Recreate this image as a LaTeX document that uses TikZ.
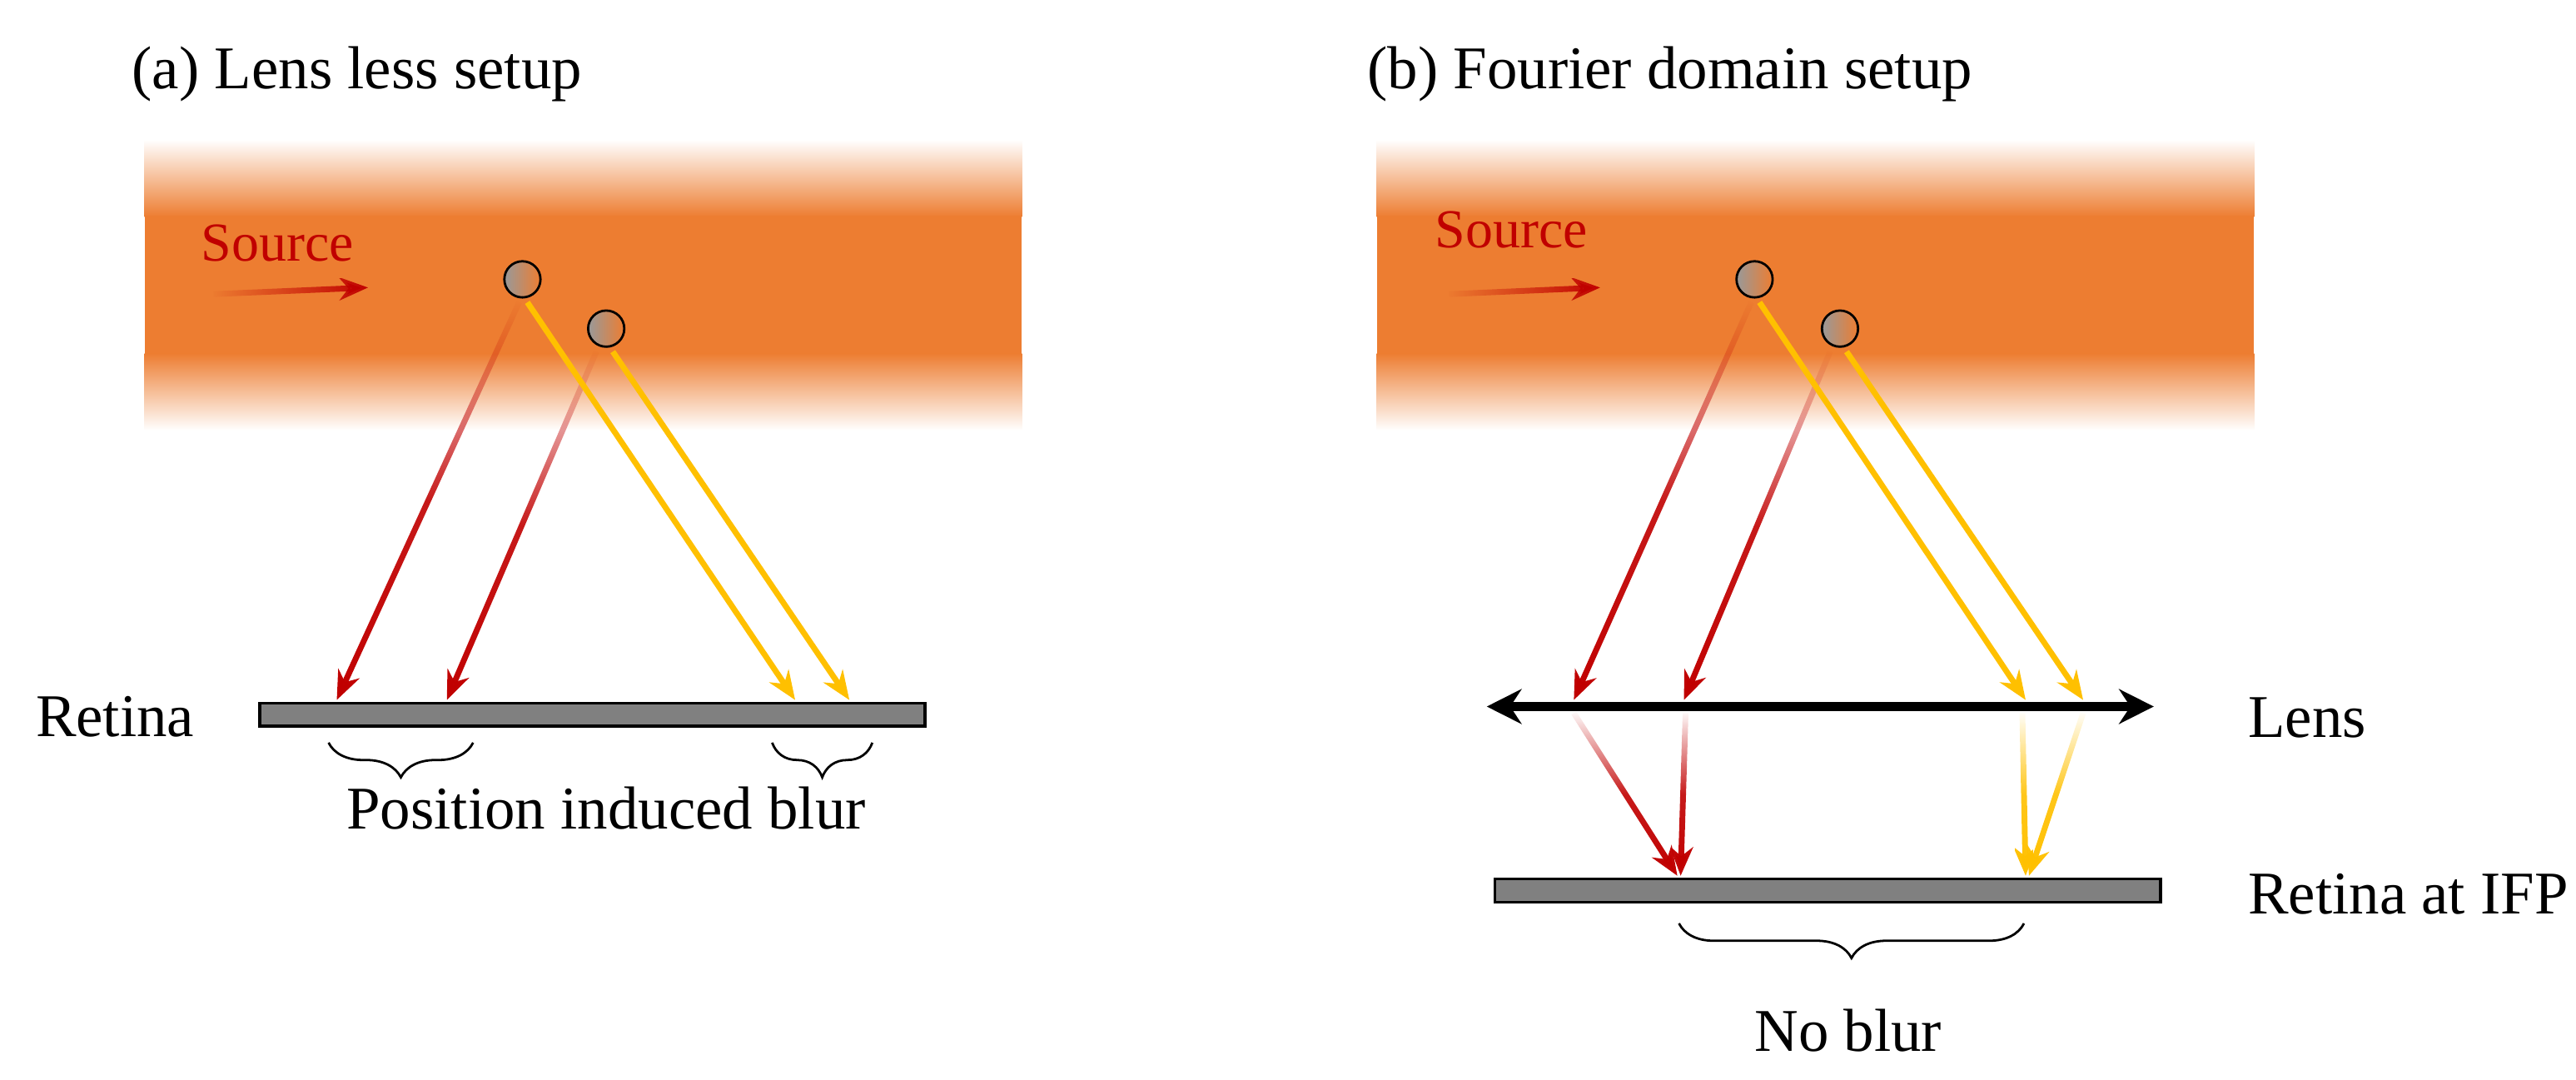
\documentclass[tikz,border=0pt]{standalone}
\usepackage{fontspec}
\setmainfont{Liberation Serif}
\usetikzlibrary{arrows.meta,fadings,decorations.pathreplacing}
\definecolor{bandorange}{RGB}{237,125,49}
\definecolor{raired}{RGB}{192,0,0}
\definecolor{raigold}{RGB}{255,192,0}
\tikzfading[name=fadetop, top color=transparent!100, bottom color=transparent!0, middle color=transparent!10]
\tikzfading[name=fadeleft, left color=transparent!100, right color=transparent!0]
\begin{document}
\begin{tikzpicture}[x=0.01cm, y=-0.01cm,
    title/.style={font=\fontsize{10.5}{12}\selectfont, anchor=west},
    label/.style={font=\fontsize{10.5}{12}\selectfont},
    srclabel/.style={font=\fontsize{9.5}{11}\selectfont, text=raired},
    ray/.style={line width=1pt, -{Stealth[length=5pt,width=4pt]}},
    redray/.style={ray, draw=raired, path fading=fadetop},
    goldray/.style={ray, draw=raigold},
    particle/.style={draw=black, line width=0.4pt, left color=gray!80, right color=bandorange},
    retina/.style={draw=black, line width=0.5pt, fill=gray},
    blurbrace/.style={draw=black, line width=0.4pt, decorate,
        decoration={brace, mirror, amplitude=6pt}}
]
\useasboundingbox (0,0) rectangle (1568,657);

% ---------- (a) lens less ----------
\node[title] (titleA) at (68,45) {(a) Lens less setup};
% band
\shade[top color=white, bottom color=bandorange] (88,85) rectangle (622,132);
\fill[bandorange] (88,131) rectangle (622,216);
\shade[top color=bandorange, bottom color=white] (88,215) rectangle (622,262);
\node[srclabel] (srcA) at (169,148) {Source};
\coordinate (srcAs) at (130,179);
\coordinate (srcAe) at (224,175);
\draw[line width=1pt, draw=raired, path fading=fadeleft, -{Stealth[length=5pt,width=4pt]}] (srcAs) -- (srcAe);
% particles
\path[particle] (318,170) circle (11);
\path[particle] (369,200) circle (11);
\coordinate (pA1) at (316,184);
\coordinate (pA2) at (363,214);
\coordinate (pA1y) at (321,184);
\coordinate (pA2y) at (373,214);
% rays
\draw[redray] (pA1) -- (205,426);
\draw[redray] (pA2) -- (272,426);
\draw[goldray] (pA1y) -- (484,426);
\draw[goldray] (pA2y) -- (517,426);
% retina
\draw[retina] (158,428) rectangle (563,442);
\node[label] (retinaA) at (70,436) {Retina};
\draw[blurbrace] (200,452) -- (288,452);
\draw[blurbrace] (470,452) -- (531,452);
\node[label] (blurA) at (369,492) {Position induced blur};

% ---------- (b) Fourier domain ----------
\node[title] (titleB) at (820,45) {(b) Fourier domain setup};
\shade[top color=white, bottom color=bandorange] (838,85) rectangle (1372,132);
\fill[bandorange] (838,131) rectangle (1372,216);
\shade[top color=bandorange, bottom color=white] (838,215) rectangle (1372,262);
\node[srclabel] (srcB) at (920,140) {Source};
\coordinate (srcBs) at (882,179);
\coordinate (srcBe) at (974,175);
\draw[line width=1pt, draw=raired, path fading=fadeleft, -{Stealth[length=5pt,width=4pt]}] (srcBs) -- (srcBe);
\path[particle] (1068,170) circle (11);
\path[particle] (1120,200) circle (11);
\coordinate (pB1) at (1066,184);
\coordinate (pB2) at (1114,214);
\coordinate (pB1y) at (1071,184);
\coordinate (pB2y) at (1124,214);
\draw[redray] (pB1) -- (958,426);
\draw[redray] (pB2) -- (1025,426);
\draw[goldray] (pB1y) -- (1233,426);
\draw[goldray] (pB2y) -- (1268,426);
% lens
\coordinate (lensL) at (905,430);
\coordinate (lensR) at (1311,430);
\draw[line width=1.6pt, {Stealth[length=6pt,width=6pt]}-{Stealth[length=6pt,width=6pt]}] (lensL) -- (lensR);
\node[label, anchor=west] (lens) at (1356,437) {Lens};
% after lens
\draw[redray] (958,434) -- (1021,533);
\draw[redray] (1026,434) -- (1023,533);
\draw[goldray, path fading=fadetop] (1231,434) -- (1233,533);
\draw[goldray, path fading=fadetop] (1268,434) -- (1235,533);
\draw[retina] (910,535) rectangle (1315,549);
\node[label, anchor=west] (retinaB) at (1356,544) {Retina at IFP};
\draw[blurbrace] (1022,562) -- (1232,562);
\node[label] (blurB) at (1125,627) {No blur};
\end{tikzpicture}
\end{document}
